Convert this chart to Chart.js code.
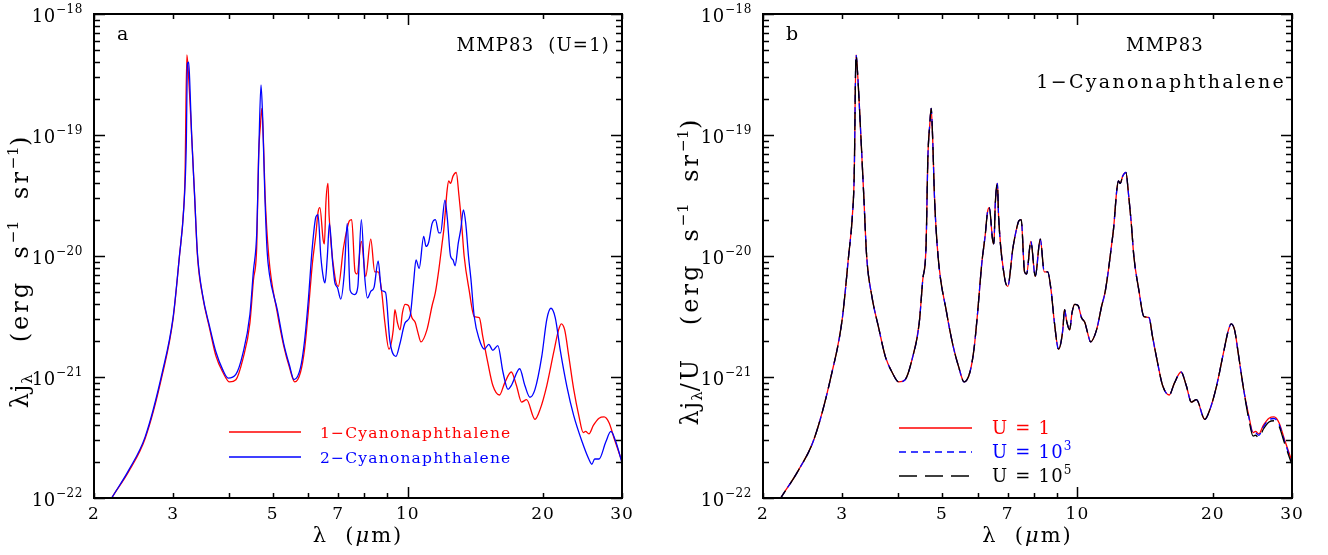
<!DOCTYPE html>
<html>
<head>
<meta charset="utf-8">
<script src="https://cdn.jsdelivr.net/npm/chart.js@4.4.1/dist/chart.umd.min.js"></script>
<style>
  body { margin: 0; background: #fff; width: 1328px; height: 555px; overflow: hidden; position: relative; }
  canvas { position: absolute; top: 0; }
</style>
</head>
<body>
<canvas id="panelA" width="664" height="555" style="left:0"></canvas>
<canvas id="panelB" width="664" height="555" style="left:664px"></canvas>
<script>
// wavelength (micron) and lambda*j_lambda (erg s-1 sr-1)
const cn1 = [
  [2.00, 5.6e-23], [2.19, 1.0e-22], [2.39, 1.66e-22], [2.60, 3.1e-22], [2.84, 1.05e-21],
  [3.00, 3.0e-21], [3.10, 1.0e-20], [3.16, 2.14e-20], [3.19, 4.6e-20], [3.22, 4.6e-19],
  [3.24, 3.6e-19], [3.30, 1.0e-19], [3.35, 3.16e-20], [3.40, 1.0e-20], [3.49, 4.7e-21],
  [3.62, 2.5e-21], [3.74, 1.48e-21], [3.87, 1.1e-21], [4.01, 9.1e-22], [4.14, 9.5e-22],
  [4.29, 1.4e-21], [4.45, 2.8e-21], [4.53, 6.3e-21], [4.61, 1.26e-20], [4.65, 6.3e-20],
  [4.70, 1.26e-19], [4.73, 1.66e-19], [4.77, 8.7e-20], [4.81, 3.16e-20], [4.90, 1.0e-20],
  [5.12, 3.4e-21], [5.29, 1.82e-21], [5.45, 1.2e-21], [5.60, 9.1e-22], [5.77, 1.1e-21],
  [5.89, 1.7e-21], [6.00, 3.4e-21], [6.13, 8.7e-21], [6.24, 1.5e-20], [6.31, 2.29e-20],
  [6.37, 2.51e-20], [6.48, 1.35e-20], [6.52, 1.26e-20], [6.57, 2.75e-20], [6.64, 3.98e-20],
  [6.68, 2.14e-20], [6.88, 6.8e-21], [7.00, 5.6e-21], [7.19, 1.17e-20], [7.33, 1.7e-20],
  [7.41, 1.95e-20], [7.50, 2.0e-20], [7.63, 7.4e-21], [7.71, 7.1e-21], [7.88, 1.32e-20],
  [8.06, 6.8e-21], [8.27, 1.38e-20], [8.44, 7.4e-21], [8.59, 7.4e-21], [8.74, 5.2e-21],
  [8.89, 2.82e-21], [9.08, 1.7e-21], [9.28, 2.45e-21], [9.36, 3.6e-21], [9.48, 2.82e-21],
  [9.61, 2.45e-21], [9.73, 3.4e-21], [9.86, 3.98e-21], [10.03, 3.9e-21], [10.21, 3.1e-21],
  [10.39, 2.82e-21], [10.53, 2.34e-21], [10.70, 1.95e-21], [11.03, 2.45e-21], [11.33, 3.9e-21],
  [11.52, 5.0e-21], [11.73, 7.8e-21], [11.93, 1.29e-20], [12.03, 1.66e-20], [12.24, 3.55e-20],
  [12.34, 4.17e-20], [12.45, 3.98e-20], [12.61, 4.57e-20], [12.82, 4.9e-20], [13.00, 3.16e-20],
  [13.19, 1.78e-20], [13.35, 1.0e-20], [13.70, 5.2e-21], [14.06, 3.16e-21], [14.43, 3.1e-21],
  [14.68, 2.19e-21], [15.07, 1.32e-21], [15.47, 8.5e-22], [16.00, 7.1e-22], [16.43, 8.9e-22],
  [17.00, 1.1e-21], [17.46, 8.5e-22], [17.92, 6.2e-22], [18.39, 6.5e-22], [19.20, 4.47e-22],
  [19.71, 5.4e-22], [20.40, 8.5e-22], [21.12, 1.58e-21], [21.67, 2.45e-21], [21.97, 2.75e-21],
  [22.36, 2.45e-21], [22.82, 1.51e-21], [23.42, 7.9e-22],
  [24.04, 4.8e-22], [24.59, 3.47e-22], [24.89, 3.55e-22], [25.32, 3.39e-22], [25.90, 3.98e-22],
  [26.67, 4.57e-22], [27.37, 4.68e-22], [28.09, 4.17e-22], [28.83, 3.09e-22], [30.00, 2.0e-22]
];

const cn2 = [
  [2.00, 5.6e-23], [2.19, 1.0e-22], [2.39, 1.7e-22], [2.60, 3.2e-22], [2.84, 1.1e-21],
  [3.00, 3.1e-21], [3.10, 1.0e-20], [3.17, 2.5e-20], [3.21, 8.0e-20], [3.23, 3.9e-19],
  [3.25, 4.0e-19], [3.27, 2.6e-19], [3.30, 1.0e-19], [3.35, 3.2e-20], [3.40, 1.05e-20],
  [3.49, 4.8e-21], [3.62, 2.6e-21], [3.74, 1.6e-21], [3.87, 1.15e-21], [3.98, 9.8e-22],
  [4.14, 1.05e-21], [4.29, 1.55e-21], [4.45, 3.3e-21], [4.53, 7.5e-21], [4.61, 1.6e-20],
  [4.66, 8.0e-20], [4.71, 2.6e-19], [4.75, 1.4e-19], [4.80, 3.5e-20], [4.86, 1.1e-20],
  [4.92, 7.0e-21], [5.12, 3.6e-21], [5.29, 1.9e-21], [5.45, 1.25e-21], [5.58, 9.5e-22],
  [5.77, 1.2e-21], [5.89, 2.0e-21], [6.00, 4.2e-21], [6.13, 1.2e-20], [6.24, 2.1e-20],
  [6.31, 2.2e-20], [6.40, 1.0e-20], [6.49, 6.5e-21], [6.54, 6.0e-21], [6.62, 1.0e-20],
  [6.69, 1.86e-20], [6.80, 8.9e-21], [6.88, 6.0e-21], [6.97, 5.5e-21], [7.09, 4.4e-21],
  [7.22, 7.2e-21], [7.33, 1.86e-20], [7.44, 5.2e-21], [7.61, 4.8e-21], [7.74, 5.6e-21],
  [7.88, 2.0e-20], [8.01, 7.0e-21], [8.13, 4.5e-21], [8.27, 5.1e-21], [8.41, 5.5e-21],
  [8.59, 9.1e-21], [8.74, 5.2e-21], [8.92, 5.0e-21], [9.12, 2.0e-21], [9.41, 1.48e-21],
  [9.61, 1.9e-21], [9.86, 2.8e-21], [10.12, 3.2e-21], [10.30, 6.0e-21], [10.43, 9.3e-21],
  [10.60, 7.9e-21], [10.85, 1.45e-20], [10.98, 1.2e-20], [11.13, 1.3e-20], [11.33, 1.86e-20],
  [11.52, 2.0e-20], [11.73, 1.55e-20], [11.83, 1.55e-20], [12.10, 2.9e-20], [12.24, 2.1e-20],
  [12.45, 1.0e-20], [12.61, 9.3e-21], [12.74, 8.3e-21], [12.96, 1.29e-20], [13.12, 1.66e-20],
  [13.30, 2.4e-20], [13.46, 1.86e-20], [13.65, 1.0e-20], [13.82, 6.5e-21], [14.06, 3.16e-21],
  [14.43, 2.04e-21], [14.81, 1.7e-21], [15.15, 1.86e-21], [15.47, 1.66e-21], [15.87, 1.82e-21],
  [16.29, 1.1e-21], [16.72, 7.9e-22], [17.00, 8.5e-22], [17.75, 1.17e-21], [18.23, 8.5e-22],
  [18.71, 6.8e-22], [19.20, 7.9e-22], [19.88, 1.48e-21], [20.40, 3.0e-21], [20.83, 3.7e-21],
  [21.30, 3.1e-21], [21.86, 1.66e-21], [22.62, 8.3e-22], [23.42, 4.8e-22], [24.46, 2.9e-22],
  [25.30, 2.1e-22], [25.70, 1.9e-22], [26.08, 2.1e-22], [26.67, 2.1e-22], [27.60, 2.9e-22],
  [28.34, 3.55e-22], [29.08, 2.9e-22], [30.00, 1.95e-22]
];

// 1-cyanonaphthalene at higher U only separates from U=1 beyond ~24 micron
const tailU3 = [
  [24.04, 4.7e-22], [24.59, 3.38e-22], [24.89, 3.45e-22], [25.32, 3.29e-22], [25.90, 3.86e-22],
  [26.67, 4.43e-22], [27.37, 4.54e-22], [28.09, 4.05e-22], [28.83, 3.0e-22], [30.00, 1.95e-22]
];
const tailU5 = [
  [24.04, 4.5e-22], [24.59, 3.25e-22], [24.89, 3.3e-22], [25.32, 3.15e-22], [25.90, 3.7e-22],
  [26.67, 4.25e-22], [27.37, 4.35e-22], [28.09, 3.9e-22], [28.83, 2.88e-22], [30.00, 1.88e-22]
];

const xTickLabels = [2, 3, 5, 7, 10, 20, 30];
const xMinorTicks = [2, 3, 4, 5, 6, 7, 8, 9, 20, 30];
const xMajorTicks = [10];
const yDecades = [-22, -21, -20, -19, -18];

const SERIF = '"DejaVu Serif", serif';
const RED = '#ff0000';
const BLUE = '#0000ff';

const toXY = pts => pts.map(([x, y]) => ({ x, y }));
const withTail = (pts, tail) => pts.filter(p => p[0] < tail[0][0]).concat(tail);

// draw a run of text pieces (sub/superscripts) starting at x along a baseline
function drawRich(ctx, parts, x, y, align, spacing) {
  const sp = p => (p.sp !== undefined ? p.sp : (spacing || 0)) + 'px';
  const font = p => (p.it ? 'italic ' : '') + p.s + 'px ' + SERIF;
  let w = 0;
  parts.forEach(p => {
    ctx.font = font(p);
    ctx.letterSpacing = sp(p);
    p.w = ctx.measureText(p.t).width;
    w += p.w;
  });
  let cx = align === 'right' ? x - w : align === 'center' ? x - w / 2 : x;
  ctx.textAlign = 'left';
  ctx.textBaseline = 'alphabetic';
  parts.forEach(p => {
    ctx.font = font(p);
    ctx.letterSpacing = sp(p);
    ctx.fillText(p.t, cx, y + (p.dy || 0));
    cx += p.w;
  });
  ctx.letterSpacing = '0px';
}

function axesPlugin(cfg) {
  return {
    id: 'axes',
    afterDatasetsDraw(chart) {
      const { ctx, chartArea: a, scales: { x, y } } = chart;
      ctx.save();
      ctx.strokeStyle = '#000';
      ctx.fillStyle = '#000';

      // ticks on all four sides, pointing inwards
      ctx.lineWidth = 1.5;
      ctx.beginPath();
      const xt = (v, len) => {
        const px = Math.round(x.getPixelForValue(v)) + 0.5;
        ctx.moveTo(px, a.bottom); ctx.lineTo(px, a.bottom - len);
        ctx.moveTo(px, a.top); ctx.lineTo(px, a.top + len);
      };
      xMinorTicks.forEach(v => xt(v, 5));
      xMajorTicks.forEach(v => xt(v, 11));
      const yt = (v, len) => {
        const py = Math.round(y.getPixelForValue(v)) + 0.5;
        ctx.moveTo(a.left, py); ctx.lineTo(a.left + len, py);
        ctx.moveTo(a.right, py); ctx.lineTo(a.right - len, py);
      };
      yDecades.forEach((d, i) => {
        yt(Math.pow(10, d), 11);
        if (i < yDecades.length - 1) {
          for (let m = 2; m <= 9; m++) yt(m * Math.pow(10, d), 6);
        }
      });
      ctx.stroke();

      ctx.lineWidth = 2;
      ctx.strokeRect(a.left, a.top, a.right - a.left, a.bottom - a.top);

      // tick labels
      ctx.fillStyle = '#000';
      xTickLabels.forEach(v => {
        drawRich(ctx, [{ t: String(v), s: 17 }], x.getPixelForValue(v), a.bottom + 21, 'center', 1);
      });
      yDecades.forEach(d => {
        const py = y.getPixelForValue(Math.pow(10, d));
        drawRich(ctx, [{ t: '10', s: 18 }, { t: '\u2212' + (-d), s: 12, dy: -9 }], a.left - 11, py + 8, 'right', 0.6);
      });

      // axis titles
      drawRich(ctx, [{ t: '\u03bb  (', s: 21 }, { t: '\u03bc', s: 21, it: true }, { t: 'm)', s: 21 }],
        (a.left + a.right) / 2, a.bottom + 44, 'center', 2);

      ctx.save();
      ctx.translate(cfg.yTitleX, 271);
      ctx.rotate(-Math.PI / 2);
      drawRich(ctx, cfg.yTitle, 0, 0, 'center', 3);
      ctx.restore();

      // panel letter and notes
      drawRich(ctx, [{ t: cfg.letter, s: 19 }], a.left + 23, a.top + 26, 'left', 0);
      cfg.notes.forEach(n => drawRich(ctx, [{ t: n.t, s: n.s || 18 }], n.x, n.y, n.align, n.sp || 1.2));

      // legend
      cfg.legend.forEach(l => {
        ctx.strokeStyle = l.c;
        ctx.lineWidth = 1.3;
        ctx.setLineDash(l.dash || []);
        ctx.beginPath();
        ctx.moveTo(l.x0, l.y); ctx.lineTo(l.x1, l.y);
        ctx.stroke();
        ctx.setLineDash([]);
        ctx.fillStyle = l.c;
        drawRich(ctx, l.parts, l.tx, l.y + 6, 'left', 1.2);
      });
      ctx.restore();
    }
  };
}

// lower order is drawn on top
function lineSet(pts, color, order, dash) {
  return {
    data: toXY(pts),
    borderColor: color,
    borderWidth: 1.3,
    borderDash: dash || [],
    order: order,
    pointRadius: 0,
    fill: false,
    cubicInterpolationMode: 'monotone'
  };
}

function makeChart(id, datasets, pad, cfg) {
  return new Chart(document.getElementById(id), {
    type: 'line',
    data: { datasets },
    options: {
      responsive: false,
      animation: false,
      events: [],
      layout: { padding: pad },
      plugins: { legend: { display: false }, tooltip: { enabled: false } },
      scales: {
        x: { type: 'logarithmic', min: 2, max: 30, display: false },
        y: { type: 'logarithmic', min: 1e-22, max: 1e-18, display: false }
      }
    },
    plugins: [axesPlugin(cfg)]
  });
}

const yTitleParts = extra => [
  { t: '\u03bbj', s: 24, sp: 1 }, { t: '\u03bb', s: 15, dy: 4, sp: 0 },
  { t: extra + '   (erg  s', s: 24 }, { t: '\u22121', s: 15, dy: -10, sp: 0.5 },
  { t: '  sr', s: 24 }, { t: '\u22121', s: 15, dy: -10, sp: 0.5 }, { t: ')', s: 24 }
];

makeChart('panelA', [
  lineSet(cn1, RED, 2),
  lineSet(cn2, BLUE, 1)
], { left: 94, right: 42, top: 14, bottom: 57 }, {
  letter: 'a',
  yTitleX: 28,
  yTitle: yTitleParts(''),
  notes: [{ t: 'MMP83  (U=1)', x: 610, y: 51, align: 'right' }],
  legend: [
    { c: RED, x0: 229, x1: 301, y: 432, tx: 320, parts: [{ t: '1\u2212Cyanonaphthalene', s: 15.5 }] },
    { c: BLUE, x0: 229, x1: 301, y: 457, tx: 320, parts: [{ t: '2\u2212Cyanonaphthalene', s: 15.5 }] }
  ]
});

makeChart('panelB', [
  lineSet(cn1, RED, 3),
  lineSet(withTail(cn1, tailU3), BLUE, 2, [7, 5]),
  lineSet(withTail(cn1, tailU5), '#000', 1, [18, 8])
], { left: 99, right: 36, top: 14, bottom: 57 }, {
  letter: 'b',
  yTitleX: 34,
  yTitle: yTitleParts('/U'),
  notes: [
    { t: 'MMP83', x: 501, y: 51, align: 'center' },
    { t: '1\u2212Cyanonaphthalene', x: 622, y: 88, align: 'right', s: 19, sp: 2.3 }
  ],
  legend: [
    { c: RED, x0: 235, x1: 308, y: 428, tx: 328, parts: [{ t: 'U = 1', s: 18 }] },
    { c: BLUE, x0: 235, x1: 308, y: 452, tx: 328, dash: [7, 5], parts: [{ t: 'U = 10', s: 18 }, { t: '3', s: 12, dy: -8 }] },
    { c: '#000', x0: 235, x1: 308, y: 476, tx: 328, dash: [18, 8], parts: [{ t: 'U = 10', s: 18 }, { t: '5', s: 12, dy: -8 }] }
  ]
});
</script>
</body>
</html>
